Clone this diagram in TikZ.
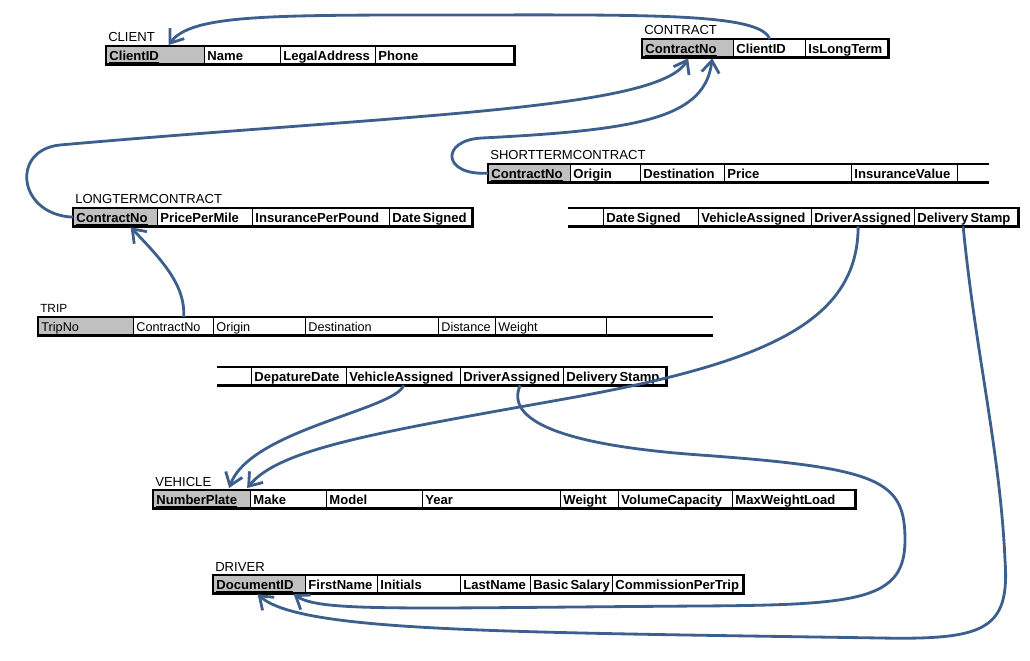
\documentclass[tikz,border=0pt]{standalone}
\usepackage{fontspec}
\setmainfont{Liberation Sans}
\usepackage{xcolor}
\usepackage{tikz}
\usetikzlibrary{arrows.meta,calc,positioning}

\definecolor{keygray}{HTML}{C0C0C0}
\definecolor{linkblue}{HTML}{3D5F8D}

\begin{document}
\begin{tikzpicture}[
  x=0.025cm, y=-0.025cm,
  cell/.style={draw,line width=0.9pt,minimum height=0.425cm,inner xsep=2pt,inner ysep=0pt,
    text height=8.5pt,text depth=1.5pt,
    anchor=north west,align=left,font=\fontsize{9.3}{11}\selectfont\bfseries},
  key/.style={cell,fill=keygray},
  tcell/.style={cell,font=\fontsize{9}{11}\selectfont},
  tkey/.style={tcell,fill=keygray},
  title/.style={anchor=base west,inner sep=0pt,font=\fontsize{9.3}{11}\selectfont},
  frame/.style={line width=1.8pt},
  link/.style={draw=linkblue,line width=2pt,-{Straight Barb[length=3mm,width=4.4mm]}}
]
\useasboundingbox (0,0) rectangle (1030,661);

% CLIENT
\foreach \st/\nm/\xa/\xb/\txt in {key/cid/106/204/\underline{ClientID},cell/name/204/280/Name,
    cell/addr/280/375/LegalAddress,cell/phone/375/513/Phone}{
  \pgfmathsetmacro\w{(\xb-\xa)*0.71131-4}
  \node[\st,text width=\w pt] (client-\nm) at (\xa,46) {\txt};
}
\draw[frame] (client-cid.north west) rectangle (client-phone.south east);
\node[title] (client) at ($(client-cid.north west)+(2,-4)$) {CLIENT};

% CONTRACT
\foreach \st/\nm/\xa/\xb/\txt in {key/cno/642/733/\underline{ContractNo},cell/cid/733/805/ClientID,
    cell/long/805/887/IsLongTerm}{
  \pgfmathsetmacro\w{(\xb-\xa)*0.71131-4}
  \node[\st,text width=\w pt] (ct-\nm) at (\xa,39) {\txt};
}
\draw[frame] (ct-cno.north west) rectangle (ct-long.south east);
\node[title] (contract) at ($(ct-cno.north west)+(2,-4)$) {CONTRACT};

% SHORTTERMCONTRACT
\foreach \st/\nm/\xa/\xb/\txt in {key/cno/488/570/\underline{ContractNo},cell/orig/570/640/Origin,
    cell/dest/640/724/Destination,cell/price/724/851/Price,cell/ins/851/957/InsuranceValue}{
  \pgfmathsetmacro\w{(\xb-\xa)*0.71131-4}
  \node[\st,text width=\w pt] (st-\nm) at (\xa,164) {\txt};
}
\draw[frame] ($(st-ins.north east)+(31,0)$) -- (st-cno.north west) -- (st-cno.south west)
  -- ($(st-ins.south east)+(31,0)$);
\node[title] (shortterm) at ($(st-cno.north west)+(2,-4)$) {SHORTTERMCONTRACT};

\foreach \st/\nm/\xa/\xb/\txt in {cell/date/603/698/Date\,Signed,cell/veh/698/811/VehicleAssigned,
    cell/drv/811/914/DriverAssigned,cell/del/914/1017/Delivery\,Stamp}{
  \pgfmathsetmacro\w{(\xb-\xa)*0.71131-4}
  \node[\st,text width=\w pt] (st2-\nm) at (\xa,208) {\txt};
}
\draw[frame] ($(st2-date.north west)+(-35,0)$) -- (st2-del.north east) -- (st2-del.south east)
  -- ($(st2-date.south west)+(-35,0)$);

% LONGTERMCONTRACT
\foreach \st/\nm/\xa/\xb/\txt in {key/cno/73/157/\underline{ContractNo},cell/ppm/157/252/PricePerMile,
    cell/ipp/252/389/InsurancePerPound,cell/date/389/471/Date\,Signed}{
  \pgfmathsetmacro\w{(\xb-\xa)*0.71131-4}
  \node[\st,text width=\w pt] (lt-\nm) at (\xa,208) {\txt};
}
\draw[frame] (lt-cno.north west) rectangle (lt-date.south east);
\node[title] (longterm) at ($(lt-cno.north west)+(2,-4)$) {LONGTERMCONTRACT};

% TRIP
\foreach \st/\nm/\xa/\xb/\txt in {tkey/tno/38/133/\underline{TripNo},tcell/cno/133/213/ContractNo,
    tcell/orig/213/305/Origin,tcell/dest/305/438/Destination,tcell/dist/438/495/Distance,
    tcell/wt/495/606/Weight}{
  \pgfmathsetmacro\w{(\xb-\xa)*0.71131-4}
  \node[\st,text width=\w pt] (trip-\nm) at (\xa,317) {\txt};
}
\draw[frame] ($(trip-wt.north east)+(106,0)$) -- (trip-tno.north west) -- (trip-tno.south west)
  -- ($(trip-wt.south east)+(106,0)$);
\node[title,font=\fontsize{8.4}{10}\selectfont] (trip) at ($(trip-tno.north west)+(2,-4)$) {TRIP};

\foreach \st/\nm/\xa/\xb/\txt in {cell/dep/251/346/DepatureDate,cell/veh/346/460/VehicleAssigned,
    cell/drv/460/563/DriverAssigned,cell/del/563/665/Delivery\,Stamp}{
  \pgfmathsetmacro\w{(\xb-\xa)*0.71131-4}
  \node[\st,text width=\w pt] (trip2-\nm) at (\xa,367) {\txt};
}
\draw[frame] ($(trip2-dep.north west)+(-34,0)$) -- (trip2-del.north east) -- (trip2-del.south east)
  -- ($(trip2-dep.south west)+(-34,0)$);

% VEHICLE
\foreach \st/\nm/\xa/\xb/\txt in {key/plate/153/250/\underline{NumberPlate},cell/make/250/326/Make,
    cell/model/326/422/Model,cell/year/422/560/Year,cell/wt/560/618/Weight,
    cell/vol/618/732/VolumeCapacity,cell/max/732/854/MaxWeightLoad}{
  \pgfmathsetmacro\w{(\xb-\xa)*0.71131-4}
  \node[\st,text width=\w pt] (veh-\nm) at (\xa,490) {\txt};
}
\draw[frame] (veh-plate.north west) rectangle (veh-max.south east);
\node[title] (vehicle) at ($(veh-plate.north west)+(2,-4)$) {VEHICLE};

% DRIVER
\foreach \st/\nm/\xa/\xb/\txt in {key/doc/213/305/\underline{DocumentID},cell/first/305/377/FirstName,
    cell/init/377/460/Initials,cell/last/460/530/LastName,cell/sal/530/612/Basic\,Salary,
    cell/comm/612/742/CommissionPerTrip}{
  \pgfmathsetmacro\w{(\xb-\xa)*0.71131-4}
  \node[\st,text width=\w pt] (drv-\nm) at (\xa,575) {\txt};
}
\draw[frame] (drv-doc.north west) rectangle (drv-comm.south east);
\node[title] (driver) at ($(drv-doc.north west)+(2,-4)$) {DRIVER};

% foreign keys
\draw[link] (ct-cid.north) .. controls (760,12) and (640,15) .. (430,15)
  .. controls (260,15) and (190,16) .. ($(client-cid.north)+(13,-1)$);
\draw[link] (st-cno.west) .. controls (442,176) and (440,140) .. (482,138)
  .. controls (640,130) and (705,118) .. ($(ct-cno.south)+(24,1)$);
\draw[link] (lt-cno.west) .. controls (18,215) and (10,150) .. (60,145)
  .. controls (400,115) and (660,110) .. ($(ct-cno.south)+(0,1)$);
\draw[link] ($(trip-cno.north)+(10,0)$) .. controls (186,285) and (160,258) .. ($(lt-cno.south)+(15,1)$);
\draw[link] (trip2-veh.south) .. controls (395,410) and (250,430) .. ($(veh-plate.north)+(27,-2)$);
\draw[link] ($(st2-drv.south)+(-5,0)$) .. controls (858,320) and (770,362) .. (570,398)
  .. controls (380,432) and (280,448) .. ($(veh-plate.north)+(45,-2)$);
\draw[link] ($(trip2-drv.south)+(8,0)$) .. controls (505,420) and (560,445) .. (700,455)
  .. controls (880,468) and (905,480) .. (905,540)
  .. controls (905,600) and (860,605) .. (700,606)
  .. controls (400,608) and (320,612) .. ($(drv-doc.south)+(34,1)$);
\draw[link] ($(st2-del.south)+(-3,0)$) .. controls (975,350) and (1000,450) .. (1005,560)
  .. controls (1010,630) and (985,640) .. (880,638)
  .. controls (500,632) and (300,632) .. ($(drv-doc.south)+(-2,1)$);
\end{tikzpicture}
\end{document}
